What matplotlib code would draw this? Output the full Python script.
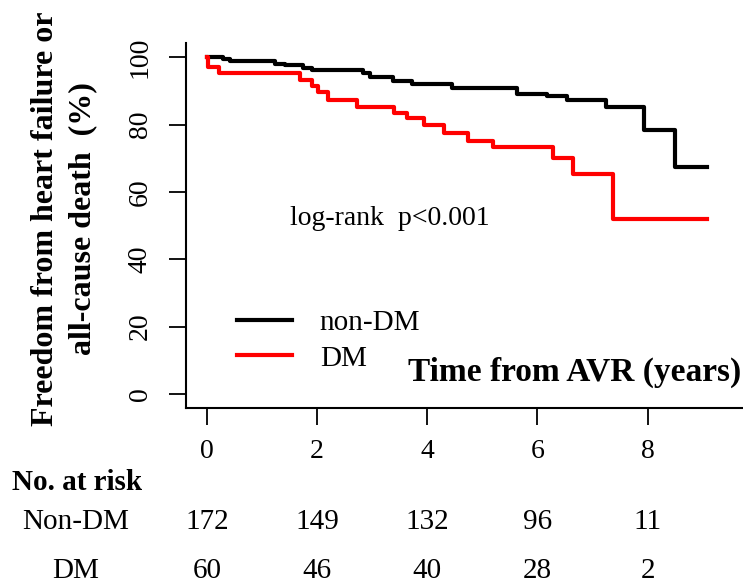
import matplotlib
matplotlib.use("Agg")
import matplotlib.pyplot as plt
import matplotlib as mpl
import matplotlib.transforms as mtransforms
import numpy as np

## Data
t_nondm = [0, 0.29, 0.42, 1.23, 1.42, 1.74, 1.91, 2.83, 2.96, 3.38, 3.72, 4.45,
           5.63, 6.17, 6.53, 7.24, 7.93, 8.49, 9.07]
s_nondm = [100, 99.4, 98.8, 98.1, 97.6, 96.7, 96.1, 95.2, 94.0, 93.0, 91.9, 90.7,
           89.2, 88.4, 87.3, 85.3, 78.3, 67.4, 67.4]
t_dm = [0, 0.02, 0.22, 1.69, 1.91, 2.01, 2.20, 2.72, 3.39, 3.63, 3.94, 4.30,
        4.74, 5.19, 6.28, 6.64, 7.37, 9.07]
s_dm = [100, 97.1, 95.2, 93.2, 91.4, 89.7, 87.2, 85.3, 83.5, 81.8, 79.8, 77.4,
        75.2, 73.2, 70.0, 65.3, 52.1, 52.1]

risk_times = [0, 2, 4, 6, 8]
risk_nondm = [172, 149, 132, 96, 11]
risk_dm = [60, 46, 40, 28, 2]
yticks = [0, 20, 40, 60, 80, 100]

## Fonts
fs = 21
mpl.rc('font', family='Liberation Serif', size=fs)

fig = plt.figure(figsize=(7.43, 5.88), dpi=100)
ax = fig.add_axes([186/743, 1 - 408/588, 1 - 186/743, (408 - 43)/588])

ax.step(t_nondm, s_nondm, where='post', color='black', lw=3, label='non-DM')
ax.step(t_dm, s_dm, where='post', color='red', lw=3, label='DM')

ax.set_xlim(-0.38, 9.73)
ax.set_ylim(-4.15, 104.2)

## R-like L box
for side in ['top', 'right']:
    ax.spines[side].set_visible(False)
for side in ['left', 'bottom']:
    ax.spines[side].set_linewidth(1.5)

ax.set_xticks(risk_times)
ax.set_xticklabels([str(v) for v in risk_times], fontsize=20)
ax.set_yticks(yticks)
ax.set_yticklabels([str(v) for v in yticks], rotation=90, va='center', fontsize=20)
ax.tick_params(axis='x', length=12, width=1.3, pad=10)
ax.tick_params(axis='y', length=12, width=1.3, pad=12)

## Labels
fig.text(64/743, 1 - 219/588, "Freedom from heart failure or\nall-cause death  (%)",
         rotation=90, ha='center', va='center', multialignment='center',
         fontsize=23, fontweight='bold', linespacing=1.38)
fig.text(741/743, 1 - 372/588, "Time from AVR (years)", ha='right', va='center',
         fontsize=24, fontweight='bold')
ax.text(0.366, 0.5205, "log-rank  p<0.001", transform=ax.transAxes,
        ha='center', va='center', fontsize=20)

## Legend
ax.legend(loc='upper left', bbox_to_anchor=(0.0916, 0.270), frameon=False,
          borderpad=0, borderaxespad=0, handlelength=1.88, handletextpad=0.96,
          labelspacing=0.32, fontsize=fs)

## Number at risk table
trans = mtransforms.blended_transform_factory(ax.transData, fig.transFigure)
fig.text(12/743, 1 - 482/588, "No. at risk", ha='left', va='center',
         fontsize=fs, fontweight='bold')
fig.text(76/743, 1 - 522/588, "Non-DM", ha='center', va='center', fontsize=fs)
fig.text(76/743, 1 - 571/588, "DM", ha='center', va='center', fontsize=fs)
for t, n1, n2 in zip(risk_times, risk_nondm, risk_dm):
    ax.text(t, 1 - 522/588, str(n1), transform=trans, ha='center', va='center',
            fontsize=fs, clip_on=False)
    ax.text(t, 1 - 571/588, str(n2), transform=trans, ha='center', va='center',
            fontsize=fs, clip_on=False)

fig.savefig("out.png", dpi=100)
